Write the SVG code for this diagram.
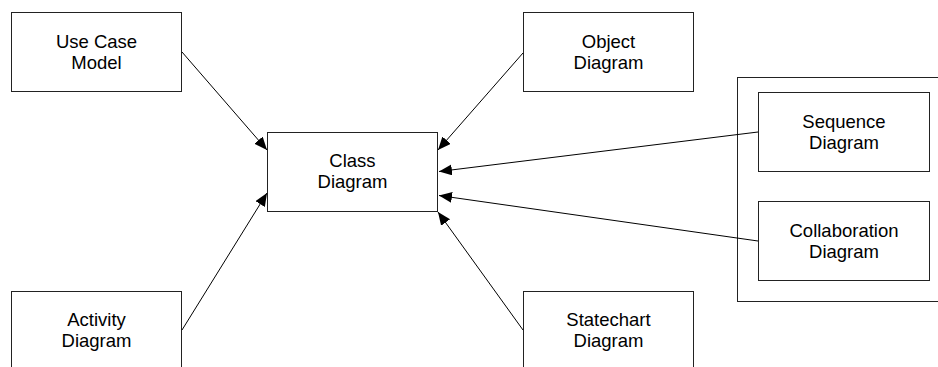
<svg xmlns="http://www.w3.org/2000/svg" width="938" height="367" viewBox="0 0 938 367">
  <style>
    .box { fill: #ffffff; stroke: #222222; stroke-width: 1; }
    .frame { fill: none; stroke: #222222; stroke-width: 1; }
    .label { font-family: "Liberation Sans", Arial, sans-serif; font-size: 18.5px; fill: #000000; text-anchor: middle; }
    .edge { stroke: #000000; stroke-width: 1; fill: none; marker-end: url(#arrow); }
  </style>
  <defs>
    <marker id="arrow" markerUnits="userSpaceOnUse" markerWidth="14" markerHeight="12" refX="13" refY="5.5" orient="auto">
      <path d="M0,0 L13,5.5 L0,11 z" fill="#000000"/>
    </marker>
  </defs>
  <rect width="938" height="367" fill="#ffffff"/>

  <!-- container around the interaction diagrams -->
  <rect class="frame" x="737.5" y="77.5" width="210" height="224"/>

  <g id="use-case-model">
    <rect class="box" x="11.5" y="12.5" width="170" height="79"/>
    <text class="label" x="96.5" y="47.5">Use Case</text>
    <text class="label" x="96.5" y="68.5">Model</text>
  </g>

  <g id="class-diagram">
    <rect class="box" x="267.5" y="132.5" width="170" height="79"/>
    <text class="label" x="352.5" y="166.5">Class</text>
    <text class="label" x="352.5" y="187.5">Diagram</text>
  </g>

  <g id="object-diagram">
    <rect class="box" x="523.5" y="12.5" width="170" height="79"/>
    <text class="label" x="608.5" y="47.5">Object</text>
    <text class="label" x="608.5" y="68.5">Diagram</text>
  </g>

  <g id="sequence-diagram">
    <rect class="box" x="758.5" y="92.5" width="171" height="79"/>
    <text class="label" x="844" y="127.5">Sequence</text>
    <text class="label" x="844" y="148.5">Diagram</text>
  </g>

  <g id="collaboration-diagram">
    <rect class="box" x="758.5" y="201.5" width="171" height="79"/>
    <text class="label" x="844" y="236.5">Collaboration</text>
    <text class="label" x="844" y="257.5">Diagram</text>
  </g>

  <g id="activity-diagram">
    <rect class="box" x="11.5" y="291.5" width="170" height="80"/>
    <text class="label" x="96.5" y="326">Activity</text>
    <text class="label" x="96.5" y="347">Diagram</text>
  </g>

  <g id="statechart-diagram">
    <rect class="box" x="523.5" y="291.5" width="170" height="80"/>
    <text class="label" x="608.5" y="326">Statechart</text>
    <text class="label" x="608.5" y="347">Diagram</text>
  </g>

  <g id="connectors">
    <line class="edge" x1="182" y1="52" x2="267" y2="150"/>
    <line class="edge" x1="523" y1="53" x2="438" y2="150"/>
    <line class="edge" x1="758" y1="132" x2="439" y2="171.5"/>
    <line class="edge" x1="758" y1="241" x2="439" y2="195.5"/>
    <line class="edge" x1="182" y1="330" x2="267" y2="193"/>
    <line class="edge" x1="523" y1="330" x2="438" y2="212"/>
  </g>
</svg>
